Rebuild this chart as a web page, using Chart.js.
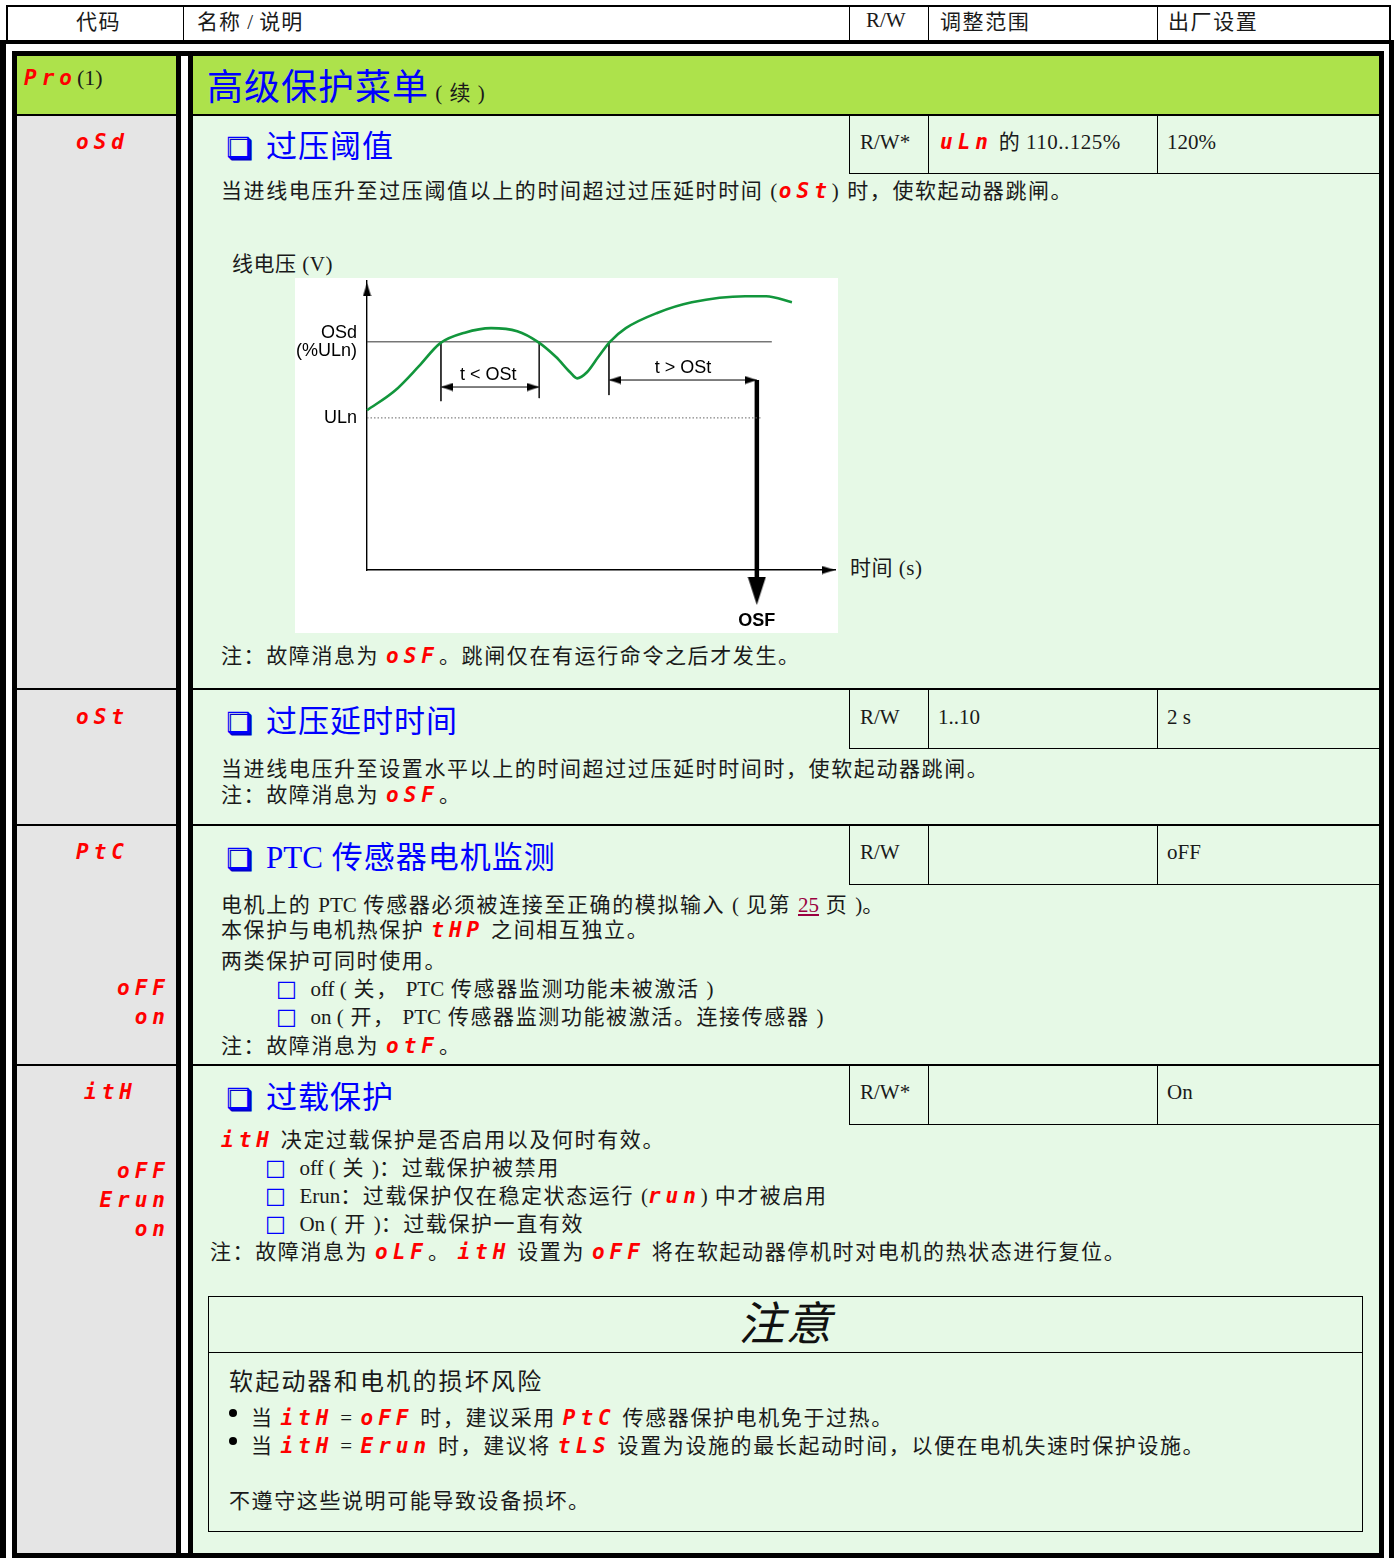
<!DOCTYPE html>
<html lang="zh-CN">
<head>
<meta charset="utf-8">
<title>高级保护菜单（续）</title>
<script src="https://cdn.jsdelivr.net/npm/chart.js@4.4.1/dist/chart.umd.min.js"></script>
<style>
  html, body { margin: 0; padding: 0; background: #fff; }
  #page { position: relative; width: 1394px; height: 1562px; overflow: hidden; }
  #page div { position: absolute; box-sizing: border-box; }
  .L { white-space: nowrap; font-family: "Liberation Serif", "Noto Sans CJK SC", serif; font-size: 21px; line-height: 24px; letter-spacing: 1.6px; color: #1a1a1a; }
  .H { white-space: nowrap; font-family: "Liberation Serif", "Noto Sans CJK SC", serif; font-size: 31px; line-height: 36px; color: #0000ff; letter-spacing: 1px; }
  .box { font-family: "DejaVu Sans", sans-serif; font-size: 28px; color: #0000ff; margin-right: 14px; text-shadow: 2px 2px 0 #0000cc; }
  .sq { font-family: "DejaVu Sans", sans-serif; font-size: 22px; color: #0000ff; margin-right: 12px; }
  .s { color: #ff0000; font-family: "DejaVu Sans Mono", monospace; font-weight: bold; font-style: italic; font-size: 21px; letter-spacing: 5px; }
  .n { letter-spacing: 0; }
  .R { text-align: right; }
  .lnk { color: #9a0040; text-decoration: underline; letter-spacing: 0; }
  .blk { background: #000; }
  .dot { display: inline-block; width: 8px; height: 8px; border-radius: 50%; background: #000; margin-right: 14px; position: relative; top: -8px; }
</style>
</head>
<body>
<div id="page">
  <!-- 表头 -->
  <div style="left:6px;top:5px;width:1385px;height:37px;border:2px solid #000;border-bottom:none;"></div>
  <div class="blk" style="left:183px;top:7px;width:1px;height:34px;"></div>
  <div class="blk" style="left:849px;top:7px;width:1px;height:34px;"></div>
  <div class="blk" style="left:928px;top:7px;width:1px;height:34px;"></div>
  <div class="blk" style="left:1157px;top:7px;width:1px;height:34px;"></div>
  <div class="L" style="left:76px;top:10px;">代码</div>
  <div class="L" style="left:197px;top:10px;letter-spacing:1px;">名称 <span class="n">/</span> 说明</div>
  <div class="L" style="left:866px;top:8px;letter-spacing:0;">R/W</div>
  <div class="L" style="left:940px;top:10px;">调整范围</div>
  <div class="L" style="left:1168px;top:10px;">出厂设置</div>

  <!-- 外框 / 内框 -->
  <div style="left:0;top:40px;width:1394px;height:1518px;border-left:6px solid #000;border-top:4px solid #000;border-right:5px solid #000;"></div>
  <div style="left:12px;top:51px;width:1372px;height:1507px;border:5px solid #000;"></div>

  <!-- 底色 -->
  <div style="left:17px;top:56px;width:159px;height:59px;background:#ade24b;"></div>
  <div style="left:17px;top:115px;width:159px;height:1438px;background:#e5e5e5;"></div>
  <div style="left:193px;top:56px;width:1186px;height:59px;background:#ade24b;"></div>
  <div style="left:193px;top:115px;width:1186px;height:1438px;background:#e6f9e6;"></div>

  <!-- 行分隔线 -->
  <div class="blk" style="left:17px;top:114px;width:1362px;height:2px;"></div>
  <div class="blk" style="left:17px;top:688px;width:1362px;height:2px;"></div>
  <div class="blk" style="left:17px;top:824px;width:1362px;height:2px;"></div>
  <div class="blk" style="left:17px;top:1064px;width:1362px;height:2px;"></div>

  <!-- 代码列分隔 -->
  <div style="left:176px;top:56px;width:12px;height:1497px;background:#fff;"></div>
  <div class="blk" style="left:176px;top:56px;width:5px;height:1497px;"></div>
  <div class="blk" style="left:188px;top:56px;width:5px;height:1497px;"></div>

  <!-- 标题栏 -->
  <div class="L" style="left:24px;top:66px;letter-spacing:0;"><span class="s">Pro</span><span style="font-size:22px;">(1)</span></div>
  <div class="H" style="left:207px;top:68px;font-size:36px;line-height:40px;">高级保护菜单<span style="font-size:21px;color:#1a1a1a;"> ( 续 )</span></div>

  <!-- 参数格 -->
  <div style="left:849px;top:116px;width:530px;height:58px;border-left:1px solid #000;border-bottom:1px solid #000;"></div>
  <div class="blk" style="left:928px;top:116px;width:1px;height:58px;"></div>
  <div class="blk" style="left:1157px;top:116px;width:1px;height:58px;"></div>
  <div style="left:849px;top:690px;width:530px;height:59px;border-left:1px solid #000;border-bottom:1px solid #000;"></div>
  <div class="blk" style="left:928px;top:690px;width:1px;height:59px;"></div>
  <div class="blk" style="left:1157px;top:690px;width:1px;height:59px;"></div>
  <div style="left:849px;top:826px;width:530px;height:59px;border-left:1px solid #000;border-bottom:1px solid #000;"></div>
  <div class="blk" style="left:928px;top:826px;width:1px;height:59px;"></div>
  <div class="blk" style="left:1157px;top:826px;width:1px;height:59px;"></div>
  <div style="left:849px;top:1066px;width:530px;height:59px;border-left:1px solid #000;border-bottom:1px solid #000;"></div>
  <div class="blk" style="left:928px;top:1066px;width:1px;height:59px;"></div>
  <div class="blk" style="left:1157px;top:1066px;width:1px;height:59px;"></div>

  <!-- oSd -->
  <div class="L" style="left:76px;top:130px;"><span class="s">oSd</span></div>
  <div class="H" style="left:226px;top:129px;"><span class="box">❑</span>过压阈值</div>
  <div class="L" style="left:860px;top:130px;letter-spacing:0;">R/W*</div>
  <div class="L" style="left:940px;top:130px;letter-spacing:0.5px;"><span class="s">uLn</span> 的 110..125%</div>
  <div class="L" style="left:1167px;top:130px;letter-spacing:0;">120%</div>
  <div class="L" style="left:221px;top:179px;">当进线电压升至过压阈值以上的时间超过过压延时时间 (<span class="s">oSt</span>) 时，使软起动器跳闸。</div>
  <div class="L" style="left:232px;top:252px;letter-spacing:0.5px;">线电压 (V)</div>
  <div style="left:295px;top:278px;width:543px;height:355px;background:#fff;">
    <canvas id="voltChart"></canvas>
  </div>
  <div class="L" style="left:850px;top:556px;letter-spacing:0.5px;">时间 (s)</div>
  <div class="L" style="left:221px;top:644px;">注：故障消息为 <span class="s">oSF</span>。跳闸仅在有运行命令之后才发生。</div>

  <!-- oSt -->
  <div class="L" style="left:76px;top:705px;"><span class="s">oSt</span></div>
  <div class="H" style="left:226px;top:704px;"><span class="box">❑</span>过压延时时间</div>
  <div class="L" style="left:860px;top:705px;letter-spacing:0;">R/W</div>
  <div class="L" style="left:938px;top:705px;letter-spacing:0;">1..10</div>
  <div class="L" style="left:1167px;top:705px;letter-spacing:0;">2 s</div>
  <div class="L" style="left:221px;top:757px;">当进线电压升至设置水平以上的时间超过过压延时时间时，使软起动器跳闸。</div>
  <div class="L" style="left:221px;top:783px;">注：故障消息为 <span class="s">oSF</span>。</div>

  <!-- PtC -->
  <div class="L" style="left:76px;top:840px;"><span class="s">PtC</span></div>
  <div class="L R" style="left:17px;width:153px;top:976px;"><span class="s">oFF</span></div>
  <div class="L R" style="left:17px;width:153px;top:1005px;"><span class="s">on</span></div>
  <div class="H" style="left:226px;top:840px;"><span class="box">❑</span><span class="n">PTC</span> 传感器电机监测</div>
  <div class="L" style="left:860px;top:840px;letter-spacing:0;">R/W</div>
  <div class="L" style="left:1167px;top:840px;letter-spacing:0;">oFF</div>
  <div class="L" style="left:221px;top:893px;">电机上的 <span class="n">PTC</span> 传感器必须被连接至正确的模拟输入 <span class="n">(</span> 见第 <span class="lnk">25</span> 页 <span class="n">)</span>。</div>
  <div class="L" style="left:221px;top:918px;">本保护与电机热保护 <span class="s">tHP</span> 之间相互独立。</div>
  <div class="L" style="left:221px;top:949px;">两类保护可同时使用。</div>
  <div class="L" style="left:276px;top:977px;"><span class="sq">□</span><span class="n">off (</span> 关， <span class="n">PTC</span> 传感器监测功能未被激活 <span class="n">)</span></div>
  <div class="L" style="left:276px;top:1005px;"><span class="sq">□</span><span class="n">on (</span> 开， <span class="n">PTC</span> 传感器监测功能被激活。连接传感器 <span class="n">)</span></div>
  <div class="L" style="left:221px;top:1034px;">注：故障消息为 <span class="s">otF</span>。</div>

  <!-- itH -->
  <div class="L" style="left:84px;top:1080px;"><span class="s">itH</span></div>
  <div class="L R" style="left:17px;width:153px;top:1159px;"><span class="s">oFF</span></div>
  <div class="L R" style="left:17px;width:153px;top:1188px;"><span class="s">Erun</span></div>
  <div class="L R" style="left:17px;width:153px;top:1217px;"><span class="s">on</span></div>
  <div class="H" style="left:226px;top:1080px;"><span class="box">❑</span>过载保护</div>
  <div class="L" style="left:860px;top:1080px;letter-spacing:0;">R/W*</div>
  <div class="L" style="left:1167px;top:1080px;letter-spacing:0;">On</div>
  <div class="L" style="left:221px;top:1128px;"><span class="s">itH</span> 决定过载保护是否启用以及何时有效。</div>
  <div class="L" style="left:265px;top:1156px;"><span class="sq">□</span><span class="n">off (</span> 关 <span class="n">)</span>：过载保护被禁用</div>
  <div class="L" style="left:265px;top:1184px;"><span class="sq">□</span><span class="n">Erun</span>：过载保护仅在稳定状态运行 <span class="n">(</span><span class="s">run</span><span class="n">)</span> 中才被启用</div>
  <div class="L" style="left:265px;top:1212px;"><span class="sq">□</span><span class="n">On (</span> 开 <span class="n">)</span>：过载保护一直有效</div>
  <div class="L" style="left:210px;top:1240px;">注：故障消息为 <span class="s">oLF</span>。 <span class="s">itH</span> 设置为 <span class="s">oFF</span> 将在软起动器停机时对电机的热状态进行复位。</div>

  <!-- 注意框 -->
  <div style="left:208px;top:1296px;width:1155px;height:236px;border:1px solid #000;"></div>
  <div class="blk" style="left:208px;top:1352px;width:1155px;height:1px;"></div>
  <div class="L" style="left:208px;top:1298px;width:1155px;text-align:center;font-size:46px;line-height:54px;font-style:italic;letter-spacing:1px;color:#111;">注意</div>
  <div class="L" style="left:229px;top:1368px;font-size:24px;line-height:28px;letter-spacing:2.2px;">软起动器和电机的损坏风险</div>
  <div class="L" style="left:229px;top:1406px;letter-spacing:1.6px;"><span class="dot"></span>当 <span class="s">itH</span> = <span class="s">oFF</span> 时，建议采用 <span class="s">PtC</span> 传感器保护电机免于过热。</div>
  <div class="L" style="left:229px;top:1434px;letter-spacing:1.6px;"><span class="dot"></span>当 <span class="s">itH</span> = <span class="s">Erun</span> 时，建议将 <span class="s">tLS</span> 设置为设施的最长起动时间，以便在电机失速时保护设施。</div>
  <div class="L" style="left:229px;top:1489px;letter-spacing:1.6px;">不遵守这些说明可能导致设备损坏。</div>
</div>

<script>
// 绿色电压曲线（电压以 ULn = 100 为基准，时间为任意单位）
const curveX = [0, 6, 11.1, 15.6, 20.9, 26.5, 32.1, 36.5, 40.4, 43.4, 44.9, 47, 49.4, 51.9, 55.3, 62, 69.4, 80.8, 85.3, 90.8];
const curveY = [105, 118, 134, 149, 156, 159, 157, 150, 140, 130, 126, 130, 140, 150, 159, 169, 176, 180, 180, 176];

// 阈值线
const osdLevel = 150;
const ulnLevel = 100;
const osdLineEnd = 86.5;
const ulnLineEnd = 84.4;

// 时间标记竖线
const markX = [15.8, 36.8, 51.7];
const markBottom = [111, 113, 115];

// 两段时间箭头与跳闸
const shortSpan = [15.8, 36.8];
const shortSpanY = 120.3;
const longSpan = [51.7, 83.3];
const longSpanY = 124.9;
const tripX = 83.3;
const tripTip = -23;

// 坐标轴
const xMax = 100;
const yMax = 190;
const yArrowTip = 188.7;
const yTickValues = [100, 150];
const yTickLabels = ['ULn', ['OSd', '(%ULn)']];
const xTickValues = [83.3];
const xTickLabels = ['OSF'];

// 图内文字
const noteTexts = ['t < OSt', 't > OSt'];
const noteX = [25.9, 67.5];
const noteY = [128.3, 132.9];

// 箭头图形（尖端位于画布中心）
function makeArrow(len, half) {
    const c = document.createElement('canvas');
    c.width = len * 2;
    c.height = half * 2 + 1;
    const g = c.getContext('2d');
    g.fillStyle = '#000';
    g.beginPath();
    g.moveTo(0, 0.5);
    g.lineTo(len, half + 0.5);
    g.lineTo(0, half * 2 + 0.5);
    g.closePath();
    g.fill();
    return c;
}
const smallArrow = makeArrow(12, 4);
const axisArrow = makeArrow(13, 4);
const bigArrow = makeArrow(28, 9);

function pts(xs, ys) {
    return xs.map((x, i) => ({ x: x, y: ys[i] }));
}

function plainLine(data, color, width, dash) {
    return {
        data: data,
        borderColor: color,
        borderWidth: width,
        borderDash: dash || [],
        pointRadius: 0,
        tension: 0,
        clip: false
    };
}

function arrowLine(data, image, rotations, width) {
    return {
        data: data,
        borderColor: '#000',
        borderWidth: width,
        pointStyle: image,
        pointRotation: rotations,
        pointRadius: 40,
        pointBorderWidth: 0,
        showLine: data.length > 1,
        tension: 0,
        clip: false
    };
}

const datasets = [
    {
        data: pts(curveX, curveY),
        borderColor: '#12963c',
        borderWidth: 2.6,
        pointRadius: 0,
        cubicInterpolationMode: 'monotone',
        clip: false
    },
    plainLine([{ x: 0, y: osdLevel }, { x: osdLineEnd, y: osdLevel }], '#333', 1),
    plainLine([{ x: 0, y: ulnLevel }, { x: ulnLineEnd, y: ulnLevel }], '#666', 1, [1.5, 2])
];

markX.forEach((mx, i) => {
    datasets.push(plainLine([{ x: mx, y: osdLevel }, { x: mx, y: markBottom[i] }], '#222', 1));
});

datasets.push(arrowLine([{ x: shortSpan[0], y: shortSpanY }, { x: shortSpan[1], y: shortSpanY }], smallArrow, [180, 0], 1));
datasets.push(arrowLine([{ x: longSpan[0], y: longSpanY }, { x: longSpan[1], y: longSpanY }], smallArrow, [180, 0], 1));
datasets.push(plainLine([{ x: tripX, y: longSpanY }, { x: tripX, y: -5 }], '#000', 4.5));
datasets.push(arrowLine([{ x: tripX, y: tripTip }], bigArrow, [90], 0));
datasets.push(arrowLine([{ x: 0, y: yArrowTip }], axisArrow, [-90], 0));
datasets.push(arrowLine([{ x: xMax, y: 0 }], axisArrow, [0], 0));

// 在数据坐标处写文字
const noteLabels = {
    id: 'noteLabels',
    afterDatasetsDraw(chart) {
        const { ctx, scales } = chart;
        ctx.save();
        ctx.font = '18px "Liberation Sans", Arial, sans-serif';
        ctx.fillStyle = '#000';
        ctx.textAlign = 'center';
        ctx.textBaseline = 'middle';
        noteTexts.forEach((t, i) => {
            ctx.fillText(t, scales.x.getPixelForValue(noteX[i]), scales.y.getPixelForValue(noteY[i]));
        });
        ctx.restore();
    }
};

const ctx = document.getElementById('voltChart').getContext('2d');
new Chart(ctx, {
    type: 'line',
    data: { datasets: datasets },
    plugins: [noteLabels],
    options: {
        responsive: true,
        maintainAspectRatio: false,
        animation: false,
        events: [],
        layout: { autoPadding: false, padding: { top: 3, right: 3, left: 0, bottom: 0 } },
        plugins: {
            legend: { display: false },
            tooltip: { enabled: false }
        },
        scales: {
            x: {
                type: 'linear',
                min: 0,
                max: xMax,
                grid: { display: false },
                border: { display: true, color: '#000', width: 1.4 },
                afterBuildTicks: (scale) => { scale.ticks = xTickValues.map(v => ({ value: v })); },
                afterFit: (scale) => { scale.height = 63; scale.paddingLeft = 0; scale.paddingRight = 0; },
                ticks: {
                    padding: 32,
                    color: '#000',
                    maxRotation: 0,
                    autoSkip: false,
                    font: { family: '"Liberation Sans", Arial, sans-serif', size: 18, weight: 'bold' },
                    callback: (value, index) => xTickLabels[index]
                }
            },
            y: {
                type: 'linear',
                min: 0,
                max: yMax,
                grid: { display: false },
                border: { display: true, color: '#000', width: 1.4 },
                afterBuildTicks: (scale) => { scale.ticks = yTickValues.map(v => ({ value: v })); },
                afterFit: (scale) => { scale.width = 72; scale.paddingTop = 0; scale.paddingBottom = 0; },
                ticks: {
                    padding: 2,
                    color: '#000',
                    autoSkip: false,
                    font: { family: '"Liberation Sans", Arial, sans-serif', size: 18, lineHeight: 1.0 },
                    callback: (value, index) => yTickLabels[index]
                }
            }
        }
    }
});
</script>
</body>
</html>
